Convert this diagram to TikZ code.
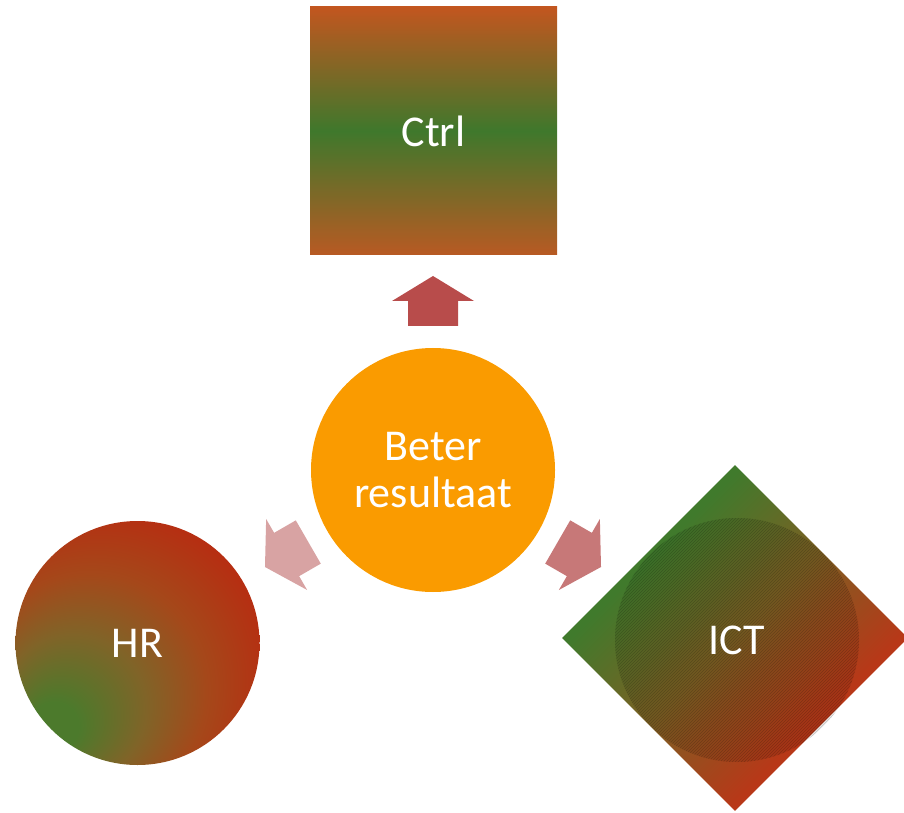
\documentclass[tikz,border=0pt]{standalone}
\usepackage{fontspec}
\setmainfont{Carlito}
\usetikzlibrary{shapes.geometric}
\definecolor{ctrltop}{RGB}{194,86,31}
\definecolor{ctrlmid}{RGB}{63,120,44}
\definecolor{ctrlbot}{RGB}{184,90,35}
\definecolor{hrgreen}{RGB}{76,122,44}
\definecolor{hrolive}{RGB}{128,100,40}
\definecolor{hrbrown}{RGB}{165,72,26}
\definecolor{hrred}{RGB}{190,34,14}
\definecolor{ictgreen}{RGB}{64,122,44}
\definecolor{ictmid}{RGB}{125,95,35}
\definecolor{ictred}{RGB}{184,56,24}
\definecolor{centerorange}{RGB}{250,155,0}
\definecolor{arrowup}{RGB}{184,76,75}
\definecolor{arrowleft}{RGB}{216,163,163}
\definecolor{arrowright}{RGB}{199,120,120}
\pgfdeclareradialshading{hrshade}{\pgfpoint{-19bp}{-19bp}}{color(0bp)=(hrgreen); color(5bp)=(hrgreen); color(15bp)=(hrolive); color(24bp)=(hrbrown); color(38bp)=(hrred); color(50bp)=(hrred)}
\pgfdeclareverticalshading{ictshade}{100bp}{color(0bp)=(ictred); color(33bp)=(ictred); color(50bp)=(ictmid); color(67bp)=(ictgreen); color(100bp)=(ictgreen)}
\tikzset{
  txt/.style={text=white, font=\fontsize{44}{47}\selectfont},
  blockarrow/.style={draw=none},
  hatchline/.style={draw=black, draw opacity=0.18, line width=1pt},
}
\begin{document}
\begin{tikzpicture}[x=1pt,y=1pt]
\useasboundingbox (0,0) rectangle (904,812);
% central circle
\node[circle, fill=centerorange, minimum size=244pt, inner sep=0pt, align=center, txt] (c) at (433,342) {Beter\\resultaat};
% Ctrl square
\node[rectangle, minimum width=247pt, minimum height=248pt, inner sep=0pt, shade, top color=ctrltop, bottom color=ctrlbot, middle color=ctrlmid, txt] (ctrl) at (433.5,681) {Ctrl};
% HR circle
\node[circle, minimum size=244pt, inner sep=0pt, shade, shading=hrshade, txt] (hr) at (137.5,169) {HR};
% ICT diamond
\node[diamond, minimum width=346pt, minimum height=346pt, inner sep=0pt, shade, shading=ictshade, shading angle=45] (ict) at (735,174) {};
\node[circle, minimum size=244pt, inner sep=0pt, fill=black, fill opacity=0.05] (icth) at (737,172) {};
\begin{scope}
  \clip (icth.center) circle (122);
  \foreach \i in {-174,-171,...,174}{
    \draw[hatchline, shift={(icth.center)}] (\i-130,-130) -- (\i+130,130);
  }
\end{scope}
\node[txt] (ictlabel) at (icth.center) {ICT};
% block arrows
\foreach \ang/\col in {90/arrowup, 210/arrowleft, -30/arrowright}{
  \fill[blockarrow, \col, shift={(c.center)}, rotate=\ang]
    (144,25) -- (169,25) -- (169,41) -- (194,0) -- (169,-41) -- (169,-25) -- (144,-25) -- cycle;
}
\end{tikzpicture}
\end{document}
